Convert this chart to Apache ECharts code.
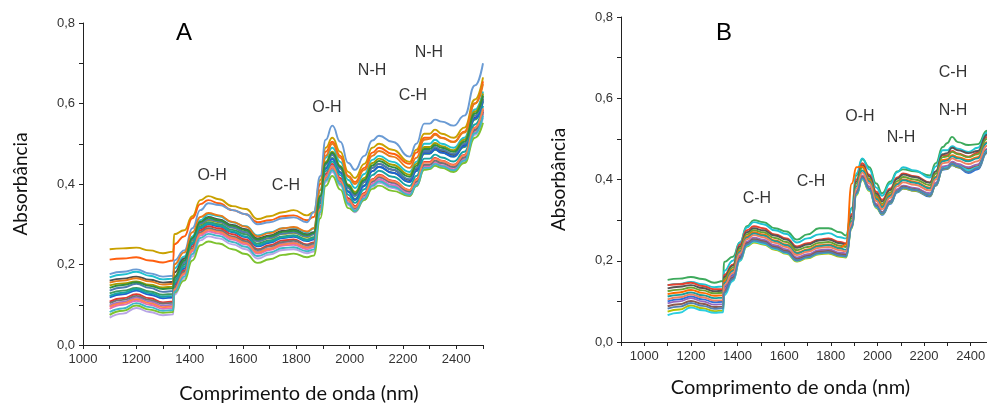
<!DOCTYPE html>
<html>
<head>
<meta charset="utf-8">
<script src="https://cdn.jsdelivr.net/npm/echarts@6/dist/echarts.min.js"></script>
<style>
html, body { margin: 0; padding: 0; background: #fff; }
#chart { width: 987px; height: 403px; }
</style>
</head>
<body>
<div id="chart"></div>
<script>
// comprimento de onda (nm)
var wl = [1100,1150,1200,1250,1300,1338,1342,1380,1410,1440,1470,1510,1560,1610,1655,1700,1750,1790,1840,1865,
          1890,1910,1935,1965,1995,2020,2055,2085,2110,2160,2225,2250,2280,2300,2320,2345,2390,2430,2470,2500];

// painel A
var a01 = [0.238,0.24,0.242,0.235,0.228,0.232,0.275,0.285,0.32,0.36,0.37,0.362,0.345,0.338,0.313,0.32,0.33,0.335,0.322,0.33,0.41,0.49,0.515,0.48,0.43,0.415,0.45,0.49,0.5,0.485,0.455,0.485,0.525,0.525,0.535,0.525,0.515,0.54,0.61,0.665];
var a02 = [0.212,0.215,0.218,0.21,0.205,0.21,0.25,0.27,0.315,0.35,0.36,0.352,0.335,0.325,0.305,0.31,0.32,0.322,0.31,0.318,0.4,0.48,0.505,0.47,0.42,0.405,0.44,0.478,0.49,0.475,0.45,0.478,0.515,0.515,0.525,0.515,0.505,0.53,0.6,0.655];
var a03 = [0.176,0.182,0.188,0.178,0.17,0.172,0.21,0.235,0.29,0.335,0.352,0.348,0.335,0.325,0.3,0.305,0.315,0.317,0.305,0.33,0.42,0.51,0.545,0.505,0.452,0.435,0.47,0.508,0.52,0.505,0.468,0.5,0.55,0.55,0.56,0.555,0.545,0.57,0.645,0.70];
var a04 = [0.168,0.175,0.182,0.172,0.163,0.165,0.19,0.22,0.27,0.31,0.325,0.32,0.305,0.295,0.272,0.28,0.29,0.292,0.28,0.29,0.385,0.465,0.49,0.455,0.41,0.39,0.425,0.46,0.47,0.455,0.43,0.455,0.5,0.5,0.51,0.5,0.49,0.515,0.585,0.63];
var a05 = [0.16,0.165,0.17,0.162,0.155,0.157,0.18,0.215,0.265,0.305,0.318,0.312,0.298,0.288,0.265,0.272,0.284,0.287,0.275,0.28,0.37,0.45,0.475,0.44,0.39,0.372,0.405,0.44,0.45,0.435,0.41,0.437,0.48,0.48,0.49,0.482,0.472,0.497,0.565,0.612];
var a06 = [0.148,0.153,0.158,0.15,0.143,0.145,0.17,0.205,0.26,0.3,0.31,0.305,0.292,0.28,0.258,0.265,0.276,0.279,0.268,0.275,0.37,0.455,0.48,0.445,0.398,0.38,0.415,0.452,0.463,0.448,0.423,0.45,0.492,0.492,0.502,0.494,0.484,0.51,0.58,0.625];
var a07 = [0.128,0.135,0.142,0.133,0.125,0.127,0.16,0.2,0.255,0.295,0.305,0.3,0.286,0.275,0.252,0.26,0.27,0.273,0.262,0.268,0.36,0.44,0.465,0.43,0.382,0.363,0.397,0.432,0.443,0.428,0.405,0.432,0.475,0.475,0.485,0.478,0.468,0.492,0.56,0.605];
var a08 = [0.118,0.126,0.135,0.125,0.116,0.118,0.15,0.19,0.25,0.29,0.3,0.295,0.28,0.268,0.245,0.254,0.266,0.269,0.258,0.262,0.355,0.438,0.462,0.428,0.38,0.36,0.395,0.432,0.443,0.428,0.405,0.432,0.476,0.476,0.486,0.478,0.468,0.494,0.563,0.608];
var a09 = [0.108,0.116,0.126,0.116,0.106,0.108,0.145,0.185,0.245,0.285,0.295,0.29,0.275,0.262,0.238,0.248,0.26,0.262,0.25,0.255,0.345,0.425,0.45,0.415,0.365,0.345,0.378,0.412,0.423,0.408,0.385,0.412,0.455,0.455,0.465,0.458,0.448,0.472,0.54,0.585];
var a10 = [0.098,0.107,0.118,0.108,0.098,0.1,0.14,0.18,0.238,0.278,0.288,0.283,0.268,0.255,0.232,0.24,0.252,0.254,0.243,0.248,0.34,0.42,0.445,0.41,0.36,0.34,0.372,0.405,0.416,0.402,0.38,0.405,0.448,0.448,0.458,0.452,0.442,0.466,0.535,0.58];
var a11 = [0.09,0.1,0.11,0.1,0.09,0.092,0.135,0.175,0.232,0.272,0.282,0.277,0.262,0.25,0.227,0.236,0.247,0.249,0.238,0.243,0.335,0.413,0.438,0.404,0.355,0.336,0.368,0.4,0.411,0.397,0.376,0.4,0.443,0.443,0.453,0.447,0.437,0.461,0.53,0.575];
var a12 = [0.068,0.078,0.092,0.082,0.074,0.076,0.125,0.165,0.22,0.26,0.27,0.265,0.25,0.238,0.215,0.225,0.236,0.238,0.228,0.232,0.325,0.405,0.43,0.396,0.348,0.33,0.36,0.393,0.403,0.39,0.37,0.394,0.437,0.437,0.447,0.441,0.432,0.455,0.522,0.565];
var a13 = [0.075,0.085,0.098,0.088,0.08,0.082,0.13,0.16,0.21,0.248,0.257,0.252,0.238,0.226,0.204,0.213,0.224,0.227,0.218,0.222,0.315,0.395,0.42,0.386,0.34,0.332,0.36,0.388,0.396,0.383,0.37,0.395,0.435,0.437,0.445,0.44,0.43,0.452,0.515,0.552];
var a14 = [0.135,0.143,0.152,0.142,0.132,0.134,0.165,0.205,0.262,0.302,0.312,0.307,0.292,0.28,0.258,0.266,0.277,0.28,0.27,0.275,0.365,0.448,0.472,0.438,0.39,0.37,0.405,0.44,0.45,0.436,0.412,0.44,0.482,0.482,0.492,0.485,0.475,0.5,0.57,0.618];
var a15 = [0.122,0.13,0.139,0.129,0.12,0.122,0.155,0.195,0.252,0.292,0.302,0.297,0.282,0.27,0.248,0.257,0.268,0.271,0.26,0.265,0.352,0.432,0.456,0.422,0.373,0.353,0.387,0.422,0.433,0.418,0.395,0.42,0.463,0.463,0.473,0.466,0.456,0.48,0.548,0.594];
var a16 = [0.104,0.112,0.122,0.112,0.103,0.105,0.142,0.182,0.24,0.28,0.29,0.285,0.27,0.258,0.236,0.245,0.256,0.259,0.248,0.252,0.34,0.418,0.442,0.408,0.36,0.34,0.373,0.407,0.418,0.404,0.382,0.406,0.448,0.448,0.458,0.452,0.442,0.466,0.534,0.58];
var a17 = [0.095,0.104,0.114,0.104,0.094,0.096,0.138,0.178,0.236,0.276,0.286,0.281,0.266,0.253,0.23,0.239,0.25,0.253,0.242,0.246,0.338,0.418,0.443,0.409,0.36,0.342,0.375,0.41,0.421,0.407,0.385,0.41,0.453,0.453,0.463,0.457,0.447,0.471,0.54,0.588];
var a18 = [0.155,0.16,0.166,0.158,0.15,0.152,0.2,0.23,0.28,0.318,0.328,0.322,0.306,0.294,0.27,0.278,0.29,0.293,0.282,0.29,0.385,0.47,0.5,0.465,0.418,0.4,0.435,0.47,0.482,0.468,0.44,0.465,0.51,0.512,0.522,0.514,0.504,0.528,0.6,0.648];
var a19 = [0.082,0.091,0.104,0.094,0.085,0.087,0.132,0.17,0.226,0.266,0.276,0.271,0.256,0.244,0.221,0.23,0.241,0.243,0.233,0.237,0.33,0.409,0.434,0.4,0.351,0.333,0.364,0.396,0.407,0.393,0.373,0.397,0.44,0.44,0.45,0.444,0.434,0.458,0.526,0.57];
var a20 = [0.142,0.149,0.156,0.147,0.139,0.141,0.168,0.21,0.266,0.306,0.316,0.31,0.296,0.285,0.262,0.27,0.281,0.284,0.273,0.278,0.37,0.452,0.478,0.443,0.395,0.376,0.41,0.446,0.457,0.442,0.418,0.445,0.487,0.487,0.497,0.49,0.48,0.505,0.575,0.62];

// painel B
var b01 = [0.153,0.156,0.16,0.155,0.146,0.15,0.197,0.21,0.245,0.285,0.3,0.295,0.28,0.272,0.252,0.265,0.28,0.28,0.27,0.262,0.33,0.41,0.45,0.43,0.39,0.366,0.395,0.42,0.425,0.42,0.41,0.44,0.48,0.49,0.505,0.492,0.485,0.487,0.52,0.565];
var b02 = [0.14,0.143,0.148,0.142,0.135,0.137,0.175,0.2,0.245,0.282,0.295,0.29,0.275,0.266,0.245,0.255,0.265,0.268,0.258,0.255,0.33,0.415,0.452,0.425,0.38,0.36,0.39,0.418,0.43,0.422,0.405,0.432,0.472,0.472,0.482,0.476,0.468,0.478,0.515,0.56];
var b03 = [0.14,0.142,0.146,0.138,0.13,0.13,0.165,0.19,0.24,0.275,0.285,0.28,0.265,0.255,0.235,0.243,0.252,0.255,0.246,0.243,0.315,0.4,0.44,0.412,0.37,0.35,0.378,0.405,0.415,0.408,0.393,0.42,0.46,0.46,0.47,0.464,0.456,0.466,0.505,0.55];
var b04 = [0.132,0.136,0.14,0.133,0.125,0.126,0.16,0.188,0.235,0.27,0.28,0.275,0.262,0.252,0.232,0.24,0.25,0.252,0.243,0.24,0.31,0.395,0.435,0.408,0.365,0.346,0.374,0.402,0.412,0.406,0.392,0.42,0.462,0.465,0.478,0.472,0.465,0.47,0.51,0.555];
var b05 = [0.125,0.129,0.134,0.127,0.12,0.121,0.155,0.183,0.23,0.265,0.275,0.27,0.256,0.246,0.226,0.234,0.244,0.246,0.237,0.234,0.305,0.39,0.43,0.402,0.36,0.34,0.368,0.396,0.406,0.4,0.386,0.414,0.455,0.457,0.468,0.462,0.455,0.462,0.5,0.545];
var b06 = [0.118,0.122,0.128,0.121,0.114,0.115,0.15,0.178,0.225,0.26,0.27,0.265,0.25,0.24,0.22,0.228,0.238,0.24,0.232,0.24,0.39,0.43,0.432,0.398,0.356,0.336,0.363,0.39,0.4,0.394,0.38,0.407,0.448,0.45,0.46,0.455,0.448,0.455,0.492,0.538];
var b07 = [0.112,0.116,0.122,0.115,0.108,0.109,0.145,0.175,0.222,0.257,0.267,0.262,0.248,0.238,0.218,0.226,0.236,0.238,0.23,0.227,0.298,0.383,0.422,0.395,0.352,0.332,0.36,0.388,0.398,0.392,0.378,0.405,0.445,0.447,0.457,0.452,0.445,0.452,0.49,0.535];
var b08 = [0.1,0.105,0.112,0.105,0.098,0.099,0.135,0.165,0.212,0.245,0.252,0.248,0.234,0.224,0.204,0.212,0.222,0.224,0.216,0.214,0.285,0.365,0.403,0.375,0.333,0.313,0.34,0.368,0.378,0.372,0.358,0.385,0.424,0.426,0.435,0.43,0.416,0.425,0.465,0.51];
var b09 = [0.095,0.1,0.108,0.1,0.092,0.093,0.13,0.162,0.212,0.247,0.257,0.252,0.238,0.228,0.208,0.216,0.226,0.228,0.22,0.218,0.29,0.372,0.41,0.383,0.34,0.32,0.348,0.376,0.385,0.379,0.366,0.392,0.432,0.434,0.444,0.438,0.43,0.437,0.475,0.52];
var b10 = [0.088,0.093,0.101,0.094,0.086,0.087,0.125,0.158,0.208,0.243,0.253,0.248,0.234,0.224,0.204,0.212,0.222,0.224,0.216,0.214,0.285,0.368,0.406,0.378,0.336,0.318,0.345,0.372,0.382,0.376,0.362,0.388,0.428,0.43,0.44,0.434,0.426,0.433,0.472,0.515];
var b11 = [0.075,0.08,0.09,0.083,0.076,0.077,0.12,0.152,0.2,0.235,0.245,0.24,0.227,0.217,0.198,0.206,0.216,0.218,0.21,0.208,0.28,0.362,0.4,0.372,0.33,0.315,0.342,0.37,0.378,0.372,0.36,0.385,0.425,0.427,0.436,0.43,0.42,0.428,0.467,0.512];
var b12 = [0.066,0.072,0.085,0.078,0.072,0.073,0.115,0.15,0.2,0.237,0.247,0.242,0.229,0.219,0.2,0.208,0.218,0.22,0.212,0.21,0.282,0.364,0.402,0.374,0.332,0.316,0.343,0.37,0.38,0.374,0.362,0.387,0.427,0.43,0.438,0.433,0.423,0.43,0.47,0.515];
var b13 = [0.105,0.11,0.117,0.11,0.102,0.103,0.14,0.17,0.218,0.253,0.263,0.258,0.244,0.234,0.214,0.222,0.232,0.234,0.226,0.223,0.294,0.378,0.417,0.39,0.347,0.327,0.355,0.383,0.393,0.387,0.373,0.4,0.44,0.442,0.452,0.446,0.438,0.445,0.483,0.528];
var b14 = [0.082,0.087,0.096,0.089,0.082,0.083,0.122,0.155,0.204,0.24,0.25,0.245,0.231,0.221,0.201,0.209,0.219,0.221,0.213,0.211,0.283,0.366,0.404,0.376,0.334,0.316,0.343,0.37,0.38,0.374,0.361,0.386,0.426,0.428,0.438,0.432,0.418,0.428,0.468,0.512];

// rótulos das bandas: [nm, absorbância, texto]
var bandsA = [[1484,0.42,'O-H'],[1761,0.395,'C-H'],[1915,0.589,'O-H'],[2084,0.681,'N-H'],[2237,0.619,'C-H'],[2297,0.727,'N-H']];
var bandsB = [[1483,0.352,'C-H'],[1715,0.394,'C-H'],[1925,0.556,'O-H'],[2101,0.502,'N-H'],[2324,0.662,'C-H'],[2324,0.569,'N-H']];

var curvesA = [a01,a02,a03,a04,a05,a06,a07,a08,a09,a10,a11,a12,a13,a14,a15,a16,a17,a18,a19,a20];
var curvesB = [b01,b02,b03,b04,b05,b06,b07,b08,b09,b10,b11,b12,b13,b14];

var colorsA = ['#C9A100','#FF5F0F','#6A9BD4','#1FC0CF','#4F4F4F','#A59C00','#3C9A5F','#1E60D2','#E2382E',
               '#9B72CB','#E06EB6','#B7A4E6','#7DC22E','#4E7AB0','#17A3A3','#737373','#FF7F50','#E87A1A',
               '#3FB6C8','#2F8F3F'];
var colorsB = ['#3DAA5C','#1FC3D2','#E8402E','#555555','#6AA232','#FF6A00','#169E9E','#2A6FDB','#9467BD',
               '#8C5A4B','#B5BF00','#2BCFE0','#F08060','#5080B0'];

var tickFont = 'Liberation Sans, Arial, sans-serif';
var nameFont = 'Lato, sans-serif';

function xAxisOpt(idx, min, gap, namePad) {
    return {
        type: 'value', gridIndex: idx, min: min, max: 2500, interval: 100,
        name: 'Comprimento de onda (nm)', nameLocation: 'middle', nameGap: gap,
        nameTextStyle: { fontFamily: nameFont, fontSize: 20, color: '#111', padding: namePad },
        axisLine: { show: true, onZero: false, lineStyle: { color: '#222', width: 1 } },
        axisTick: { show: true, length: 4, lineStyle: { color: '#222' } },
        axisLabel: {
            margin: 8, fontFamily: tickFont, fontSize: 13, color: '#333',
            formatter: function (v) { return (v % 200 === 0 && v < 2500) ? String(v) : ''; }
        },
        splitLine: { show: false }
    };
}

function yAxisOpt(idx) {
    return {
        type: 'value', gridIndex: idx, min: 0, max: 0.8, interval: 0.1,
        name: 'Absorbância', nameLocation: 'middle', nameGap: 53,
        nameTextStyle: { fontFamily: nameFont, fontSize: 19, color: '#111' },
        axisLine: { show: true, onZero: false, lineStyle: { color: '#222', width: 1 } },
        axisTick: { show: true, length: 4, lineStyle: { color: '#222' } },
        axisLabel: {
            margin: 8, fontFamily: tickFont, fontSize: 13, color: '#333',
            formatter: function (v) {
                var k = Math.round(v * 10);
                return k % 2 === 0 ? (k / 10).toFixed(1).replace('.', ',') : '';
            }
        },
        splitLine: { show: false }
    };
}

function spectra(curves, colors, idx) {
    return curves.map(function (c, i) {
        return {
            type: 'line', xAxisIndex: idx, yAxisIndex: idx,
            data: wl.map(function (w, j) { return [w, c[j]]; }),
            showSymbol: false, smooth: 0.5, smoothMonotone: 'x', silent: true,
            lineStyle: { width: 1.9, color: colors[i] },
            animation: false, z: 2
        };
    });
}

function bandLabels(bands, idx) {
    return {
        type: 'scatter', xAxisIndex: idx, yAxisIndex: idx, symbolSize: 1, silent: true,
        itemStyle: { color: 'rgba(0,0,0,0)' }, z: 5, animation: false,
        data: bands.map(function (b) { return { value: [b[0], b[1]], name: b[2] }; }),
        label: {
            show: true, position: 'inside', formatter: '{b}',
            fontFamily: tickFont, fontSize: 16, color: '#000'
        }
    };
}

var chart = echarts.init(document.getElementById('chart'), null, { renderer: 'canvas' });

var option = {
    backgroundColor: '#fff',
    animation: false,
    title: [
        { text: 'A', left: 171, top: 16, textStyle: { fontFamily: tickFont, fontSize: 24, fontWeight: 'normal', color: '#000' } },
        { text: 'B', left: 711, top: 16, textStyle: { fontFamily: tickFont, fontSize: 24, fontWeight: 'normal', color: '#000' } }
    ],
    grid: [
        { left: 83, top: 23, width: 400, height: 322, containLabel: false, outerBoundsMode: 'none' },
        { left: 621, top: 17, width: 373, height: 325, containLabel: false, outerBoundsMode: 'none' }
    ],
    xAxis: [xAxisOpt(0, 1000, 39, [0, 0, 0, 32]), xAxisOpt(1, 900, 36, [0, 34, 0, 0])],
    yAxis: [yAxisOpt(0), yAxisOpt(1)],
    series: spectra(curvesA, colorsA, 0)
        .concat(spectra(curvesB, colorsB, 1))
        .concat([bandLabels(bandsA, 0), bandLabels(bandsB, 1)])
};

chart.setOption(option);
</script>
</body>
</html>
